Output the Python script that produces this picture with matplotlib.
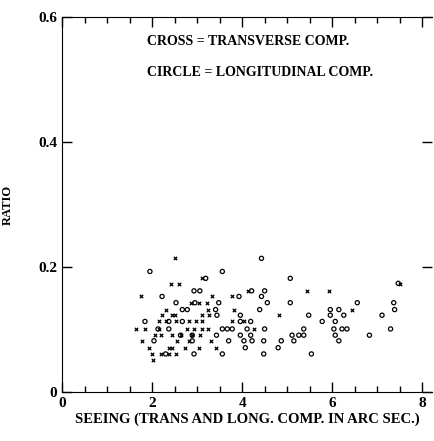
import matplotlib
matplotlib.use("Agg")
import matplotlib.pyplot as plt
from matplotlib.ticker import MultipleLocator

# transverse component (crosses)
cross_x = [2.50, 2.41, 2.59, 3.11, 1.76, 3.32, 3.78, 4.13, 2.87, 3.04, 3.22, 2.30, 3.24, 3.81,
           2.22, 2.44, 2.50, 3.11, 3.27, 4.81, 5.44, 5.93, 6.44,
           2.15, 2.30, 2.52, 2.81, 2.98, 3.11, 3.78, 4.04,
           1.63, 1.85, 2.15, 2.78, 2.93, 3.11, 3.24, 4.26,
           2.07, 2.19, 2.44, 2.63, 2.89, 3.07,
           1.78, 2.56, 2.81, 3.30,
           1.93, 2.37, 2.44, 2.74, 3.04, 3.41,
           2.00, 2.19, 2.37, 2.52, 2.01, 7.52]
cross_y = [0.214, 0.173, 0.173, 0.182, 0.153, 0.153, 0.153, 0.161, 0.143, 0.143, 0.143, 0.132, 0.132, 0.132,
           0.123, 0.123, 0.123, 0.123, 0.123, 0.123, 0.162, 0.162, 0.132,
           0.113, 0.113, 0.113, 0.113, 0.113, 0.113, 0.113, 0.113,
           0.101, 0.101, 0.101, 0.101, 0.101, 0.101, 0.101, 0.101,
           0.091, 0.091, 0.091, 0.091, 0.091, 0.091,
           0.082, 0.082, 0.082, 0.082,
           0.071, 0.071, 0.071, 0.071, 0.071, 0.071,
           0.061, 0.061, 0.061, 0.061, 0.051, 0.173]

# longitudinal component (circles)
circ_x = [4.43, 1.95, 3.56, 3.19, 5.07, 7.47,
          2.93, 3.06, 4.21, 4.50,
          2.22, 3.93, 4.43,
          2.53, 2.95, 3.48, 4.56, 5.07, 6.56, 7.37,
          2.67, 2.78, 3.41, 4.39, 5.96, 6.15, 7.39,
          3.44, 3.96, 5.48, 5.96, 6.26, 7.11,
          1.84, 2.37, 2.67, 3.96, 4.19, 5.78, 6.07,
          2.13, 2.37, 3.56, 3.67, 3.78, 4.11, 4.50, 5.37, 6.04, 6.22, 6.33, 7.30,
          2.63, 2.89, 3.43, 3.96, 4.19, 5.11, 5.26, 5.37, 6.07, 6.83,
          2.04, 2.89, 3.70, 4.04, 4.22, 4.48, 4.87, 5.15, 6.15,
          4.07, 4.80,
          2.30, 2.93, 3.56, 4.48, 5.54]
circ_y = [0.214, 0.193, 0.193, 0.182, 0.182, 0.174,
          0.162, 0.162, 0.162, 0.162,
          0.153, 0.153, 0.153,
          0.143, 0.143, 0.143, 0.143, 0.143, 0.143, 0.143,
          0.132, 0.132, 0.132, 0.132, 0.132, 0.132, 0.132,
          0.123, 0.123, 0.123, 0.123, 0.123, 0.123,
          0.113, 0.113, 0.113, 0.113, 0.113, 0.113, 0.113,
          0.101, 0.101, 0.101, 0.101, 0.101, 0.101, 0.101, 0.101, 0.101, 0.101, 0.101, 0.101,
          0.091, 0.091, 0.091, 0.091, 0.091, 0.091, 0.091, 0.091, 0.091, 0.091,
          0.082, 0.082, 0.082, 0.082, 0.082, 0.082, 0.082, 0.082, 0.082,
          0.071, 0.071,
          0.061, 0.061, 0.061, 0.061, 0.061]

plt.rcParams["font.family"] = "Liberation Serif"
plt.rcParams["font.weight"] = "bold"

fig = plt.figure(figsize=(4.35, 4.41), dpi=100)
ax = fig.add_axes([0.143, 0.111, 0.85, 0.850])

ax.scatter(cross_x, cross_y, marker="x", s=6, c="black", linewidths=0.9)
ax.scatter(circ_x, circ_y, marker="o", s=9, facecolors="none", edgecolors="black", linewidths=0.9)

ax.set_xlim(0, 8.22)
ax.set_ylim(0, 0.6)
ax.xaxis.set_minor_locator(MultipleLocator(0.5))
ax.set_xticks([0, 2, 4, 6, 8])
ax.set_xticklabels(["0", "2", "4", "6", "8"])
ax.set_yticks([0, 0.2, 0.4, 0.6])
ax.set_yticklabels(["0", "0.2", "0.4", "0.6"])
ax.tick_params(direction="in", top=True, right=True, length=7, width=1, labelsize=11)
ax.tick_params(which="minor", direction="in", top=True, length=4, width=1)
ax.spines["right"].set_visible(False)

ax.text(0.23, 0.925, "CROSS = TRANSVERSE COMP.", transform=ax.transAxes, fontsize=10, fontweight="bold")
ax.text(0.23, 0.842, "CIRCLE = LONGITUDINAL COMP.", transform=ax.transAxes, fontsize=10, fontweight="bold")

ax.set_xlabel("SEEING (TRANS AND LONG. COMP. IN ARC SEC.)", fontsize=10.5, fontweight="bold", labelpad=2)
ax.set_ylabel("RATIO", fontsize=9, fontweight="bold", labelpad=18)

fig.savefig("out.png", dpi=100)
